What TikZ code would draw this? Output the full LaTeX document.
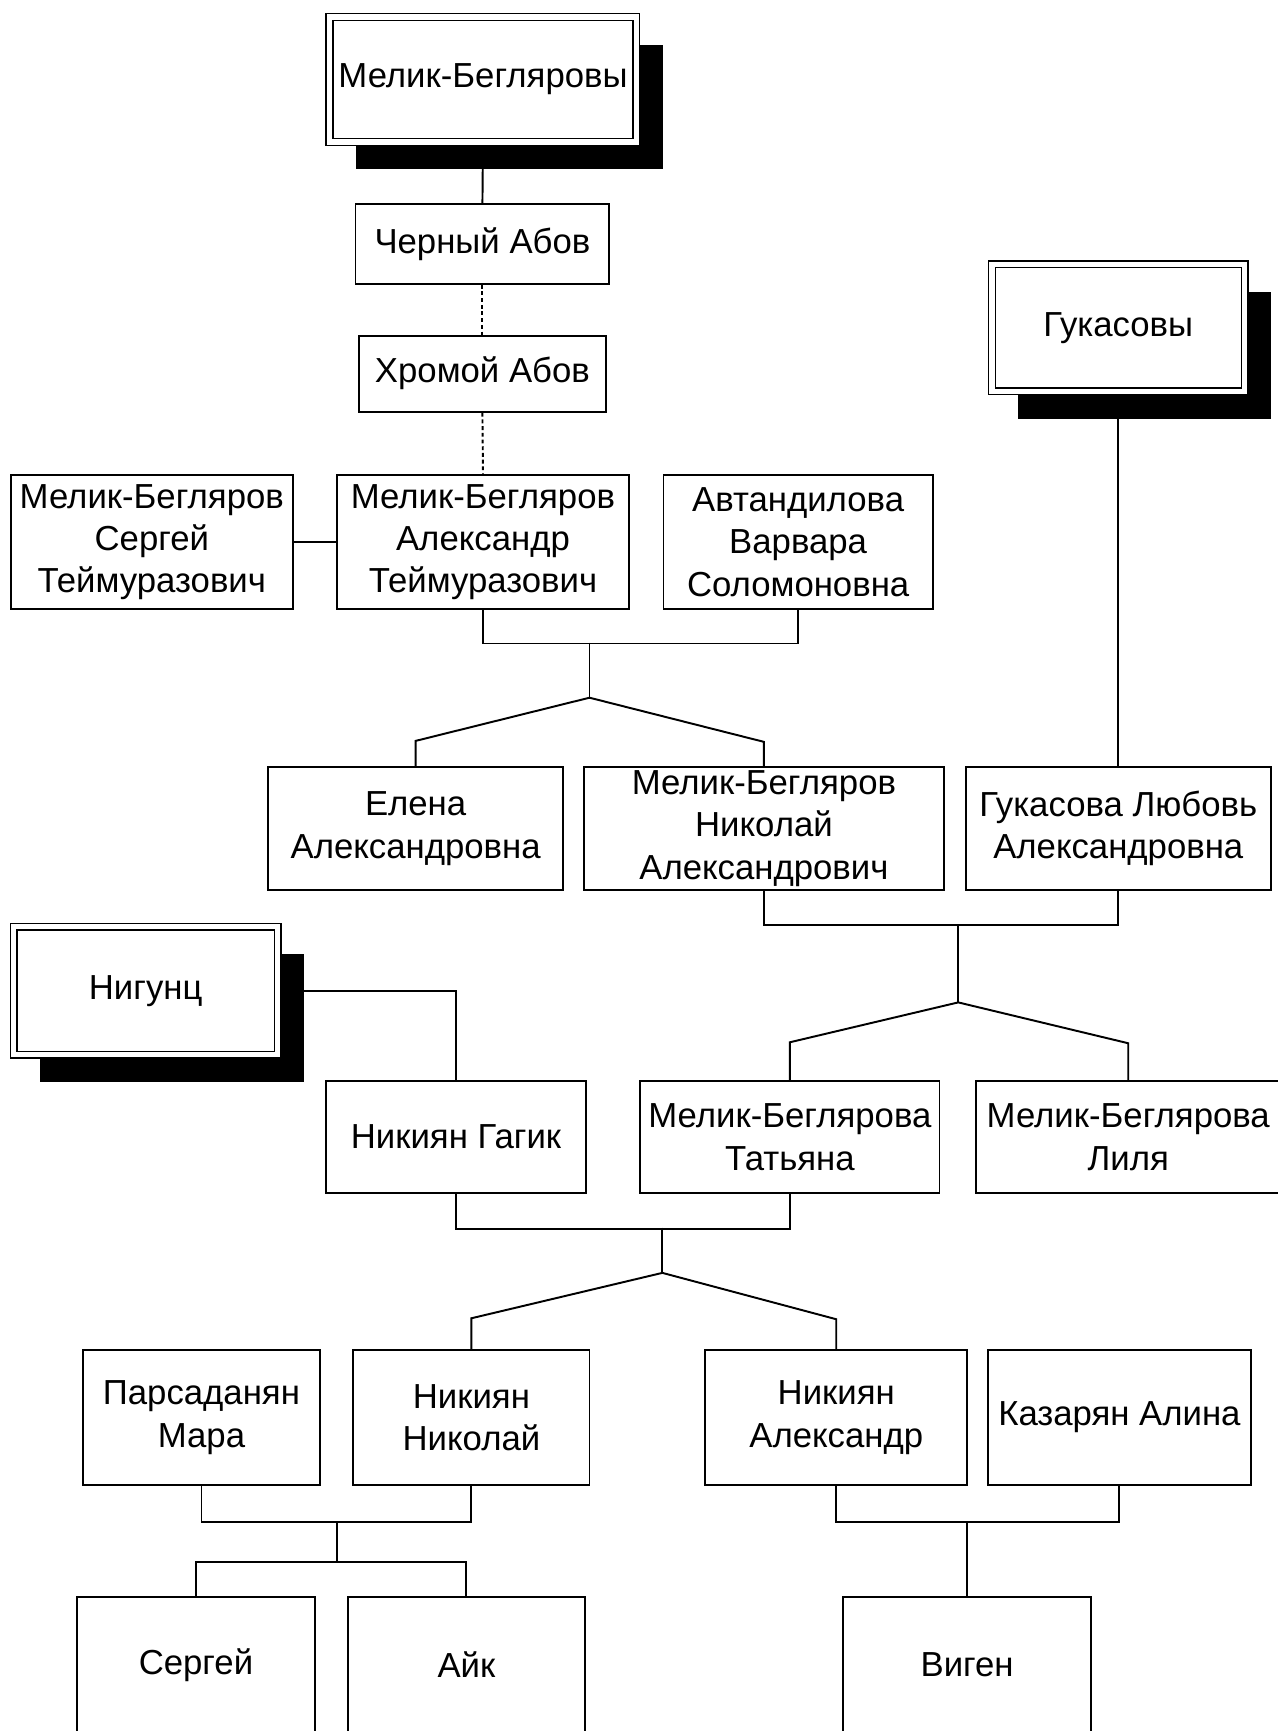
\documentclass[tikz,border=0pt]{standalone}
\usepackage{fontspec}
\setmainfont{Liberation Sans}
\usetikzlibrary{shadows,backgrounds}
\tikzset{
  prsbox/.style={rectangle, draw, fill=white, inner sep=0pt, align=center,
                 font=\fontsize{19.7}{24}\selectfont},
  clanbox/.style={rectangle, draw, double, double distance=3pt, line width=0.8pt,
                  fill=white, inner sep=0pt, align=center, font=\fontsize{19.7}{24}\selectfont,
                  drop shadow={shadow xshift=0.52cm, shadow yshift=-0.55cm, fill=black, opacity=1}},
  wh/.style 2 args={minimum width=#1*0.022cm, minimum height=#2*0.022cm},
  dotln/.style={dash pattern=on 2.2pt off 1.6pt}
}

\begin{document}
\begin{tikzpicture}[x=0.022cm, y=-0.022cm, line width=1.1pt]
  \useasboundingbox (0,0) rectangle (1157,1568);

  \node[clanbox, wh={278}{113}] (melik) at (437.5,72) {Мелик-Бегляровы};
  \node[prsbox, wh={230}{72}] (chern) at (437,221) {Черный Абов};
  \node[prsbox, wh={224}{69}] (khrom) at (437,338.5) {Хромой Абов};
  \node[prsbox, wh={255}{122}] (sergt) at (137.5,491) {Мелик-Бегляров\\Сергей\\Теймуразович};
  \node[prsbox, wh={265}{122}] (alext) at (437.5,491) {Мелик-Бегляров\\Александр\\Теймуразович};
  \node[prsbox, wh={244}{122}] (varv) at (723,491) {Автандилова\\Варвара\\Соломоновна};
  \node[clanbox, wh={229}{115}] (gukas) at (1013,297) {Гукасовы};
  \node[prsbox, wh={267}{111}] (elena) at (376.5,750.5) {Елена\\Александровна};
  \node[prsbox, wh={326}{111}] (nikal) at (692,750.5) {Мелик-Бегляров\\Николай\\Александрович};
  \node[prsbox, wh={276}{111}] (lyub) at (1013,750.5) {Гукасова Любовь\\Александровна};
  \node[clanbox, wh={239}{116}] (nigun) at (132,897.5) {Нигунц};
  \node[prsbox, wh={236}{102}] (gagik) at (413,1030) {Никиян Гагик};
  \node[prsbox, wh={271}{102}] (tatya) at (715.5,1030) {Мелик-Беглярова\\Татьяна};
  \node[prsbox, wh={276}{102}] (lilya) at (1022,1030) {Мелик-Беглярова\\Лиля};
  \node[prsbox, wh={215}{122}] (mara) at (182.5,1284) {Парсаданян\\Мара};
  \node[prsbox, wh={214}{122}] (nikni) at (427,1284) {Никиян\\Николай};
  \node[prsbox, wh={237}{122}] (alexn) at (757.5,1284) {Никиян\\Александр};
  \node[prsbox, wh={238}{122}] (alina) at (1014,1284) {Казарян Алина};
  \node[prsbox, wh={215}{122}] (serg) at (177.5,1508) {Сергей};
  \node[prsbox, wh={215}{122}] (ayk) at (422.5,1508) {Айк};
  \node[prsbox, wh={224}{122}] (vigen) at (876,1508) {Виген};

  \coordinate (fam1) at (534,632);
  \coordinate (fam2) at (868,908);
  \coordinate (fam3) at (600,1153);
  \coordinate (fam4) at (305,1415);

  \begin{scope}[on background layer={line width=1.1pt}]
    \draw (melik.south) -- (chern.north);
    \draw[dotln] (chern.south) -- (khrom.north);
    \draw[dotln] (khrom.south) -- (alext.north);
    \draw (sergt.east) -- (alext.west);
    \draw (alext.south) -- ++(0,30) -| (varv.south);
    \draw (fam1 |- 0,582) -- (fam1);
    \draw (elena.north) -- ++(0,-23) -- (fam1) -- (nikal.north |- 0,672) -- (nikal.north);

    \draw (gukas.south) -- (lyub.north);
    \draw (nikal.south) -- ++(0,31) -| (lyub.south);
    \draw (fam2 |- 0,837) -- (fam2);
    \draw (tatya.north) -- ++(0,-34) -- (fam2) -- (lilya.north |- 0,945) -- (lilya.north);

    \draw (nigun.east) -| (gagik.north);
    \draw (gagik.south) -- ++(0,31) -| (tatya.south);
    \draw (fam3 |- 0,1112) -- (fam3);
    \draw (nikni.north) -- ++(0,-28) -- (fam3) -- (alexn.north |- 0,1195) -- (alexn.north);

    \draw (mara.south) -- ++(0,33) -| (nikni.south);
    \draw (fam4 |- 0,1378) -- (fam4);
    \draw (serg.north) |- (fam4) -| (ayk.north);
    \draw (alexn.south) -- ++(0,33) -| (alina.south);
    \draw (vigen.north) -- (vigen.north |- 0,1378);
  \end{scope}
\end{tikzpicture}
\end{document}
